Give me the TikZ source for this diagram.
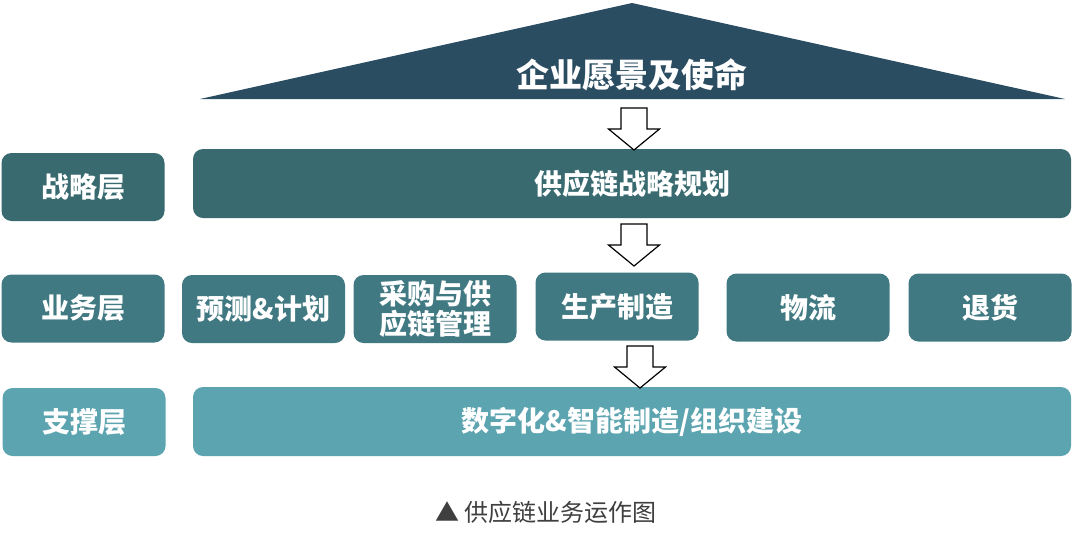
\documentclass[tikz,border=0pt]{standalone}
\usepackage{fontspec}
\setmainfont{Noto Sans CJK SC}
\usepackage{xcolor}
\usepackage{tikz}
\usetikzlibrary{positioning}
\definecolor{roofblue}{HTML}{2B4D62}
\definecolor{stratteal}{HTML}{386A70}
\definecolor{bizteal}{HTML}{407981}
\definecolor{baseteal}{HTML}{5CA4B0}
\definecolor{capgray}{HTML}{3F3F3F}
\tikzset{
  layer/.style  = {rounded corners=5pt, text=white, inner sep=2pt, align=center,
                   font=\bfseries\fontsize{14}{16}\selectfont},
  tag/.style    = {layer, minimum width=81.5pt, minimum height=34pt},
  wide/.style   = {layer, minimum width=439pt, minimum height=34.5pt},
  task/.style   = {layer, minimum width=81.5pt, minimum height=34pt},
  flowdown/.style = {draw=black, fill=white, line width=0.6pt, line join=miter},
}
% hollow block arrow pointing down, top centre at #1
\newcommand\downblock[1]{%
  \draw[flowdown] (#1) ++(-13,0) -- ++(26,0) -- ++(0,21) -- ++(12.5,0)
    -- ++(-25.5,21) -- ++(-25.5,-21) -- ++(12.5,0) -- cycle;}
\begin{document}
\begin{tikzpicture}[x=0.5pt, y=-0.5pt]
\useasboundingbox (0,0) rectangle (1080,541);

% ---------------- vision roof -----------------------------------------
\fill[roofblue] (200,99) -- (632,3) -- (1065,99) -- cycle;
\node[text=white, font=\bfseries\fontsize{16.5}{19}\selectfont] (vision) at (632,75) {企业愿景及使命};

% ---------------- layer names -----------------------------------------
\node[tag, fill=stratteal] (lstrat) at (83,187)   {战略层};
\node[tag, fill=bizteal]   (lbiz)   at (83,308.5) {业务层};
\node[tag, fill=baseteal]  (lbase)  at (84,422)   {支撑层};

% ---------------- layer contents --------------------------------------
\node[wide, fill=stratteal] (plan) at (632,183.5) {供应链战略规划};

\node[task, fill=bizteal] (b1) at (263.5,309) {预测\&计划};
\node[task, fill=bizteal, font=\bfseries\fontsize{14}{15}\selectfont] (b2) at (435,309) {采购与供\\应链管理};
\node[task, fill=bizteal] (b3) at (617,306.5) {生产制造};
\node[task, fill=bizteal] (b4) at (808,307.5) {物流};
\node[task, fill=bizteal] (b5) at (990,307.5) {退货};

\node[wide, fill=baseteal] (base) at (632,421.5) {数字化\&智能制造/组织建设};

% ---------------- hollow arrows between the layers --------------------
\coordinate (a1) at (634,108);
\coordinate (a2) at (634,224);
\coordinate (a3) at (640,346);
\downblock{a1}
\downblock{a2}
\downblock{a3}

% ---------------- caption ---------------------------------------------
\node[text=capgray, font=\fontsize{12}{14}\selectfont] (cap) at (546,512) {▲ 供应链业务运作图};

\end{tikzpicture}
\end{document}
